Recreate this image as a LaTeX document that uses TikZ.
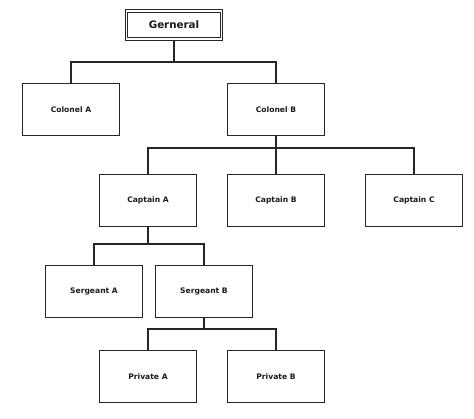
\documentclass[tikz,border=0pt]{standalone}
\usepackage{fontspec}
\setmainfont{DejaVu Sans}
\begin{document}
\begin{tikzpicture}[x=1pt,y=-1pt,
  box/.style={draw=black!85,line width=1.8pt,minimum width=97pt,minimum height=52pt,inner sep=0pt,font=\bfseries\fontsize{7.6}{9}\selectfont,text=black!90},
  topbox/.style={draw=black!85,double=white,double distance=1.6pt,line width=1.1pt,minimum width=95pt,minimum height=28pt,inner sep=0pt,font=\bfseries\fontsize{10.3}{12}\selectfont,text=black!90},
  link/.style={draw=black!85,line width=1.5pt}]
\useasboundingbox (0,0) rectangle (474,418);
\node[topbox] (gen) at (174,25) {Gerneral};
\node[box] (cola) at (71,109.5) {Colonel A};
\node[box] (colb) at (276,109.5) {Colonel B};
\node[box] (capa) at (148,200.5) {Captain A};
\node[box] (capb) at (276,200.5) {Captain B};
\node[box] (capc) at (414,200.5) {Captain C};
\node[box] (sgta) at (94,291.5) {Sergeant A};
\node[box] (sgtb) at (204,291.5) {Sergeant B};
\node[box] (pria) at (148,376.5) {Private A};
\node[box] (prib) at (276,376.5) {Private B};
\path[link] (gen.south) -- (174,62) coordinate (j1);
\path[link] (cola.north) |- (j1) -| (colb.north);
\path[link] (colb.south) -- (276,148) coordinate (j2);
\path[link] (capa.north) |- (j2) -| (capc.north);
\path[link] (j2) -- (capb.north);
\path[link] (capa.south) -- (148,244) coordinate (j3);
\path[link] (sgta.north) |- (j3) -| (sgtb.north);
\path[link] (sgtb.south) -- (204,329) coordinate (j4);
\path[link] (pria.north) |- (j4) -| (prib.north);
\end{tikzpicture}
\end{document}
